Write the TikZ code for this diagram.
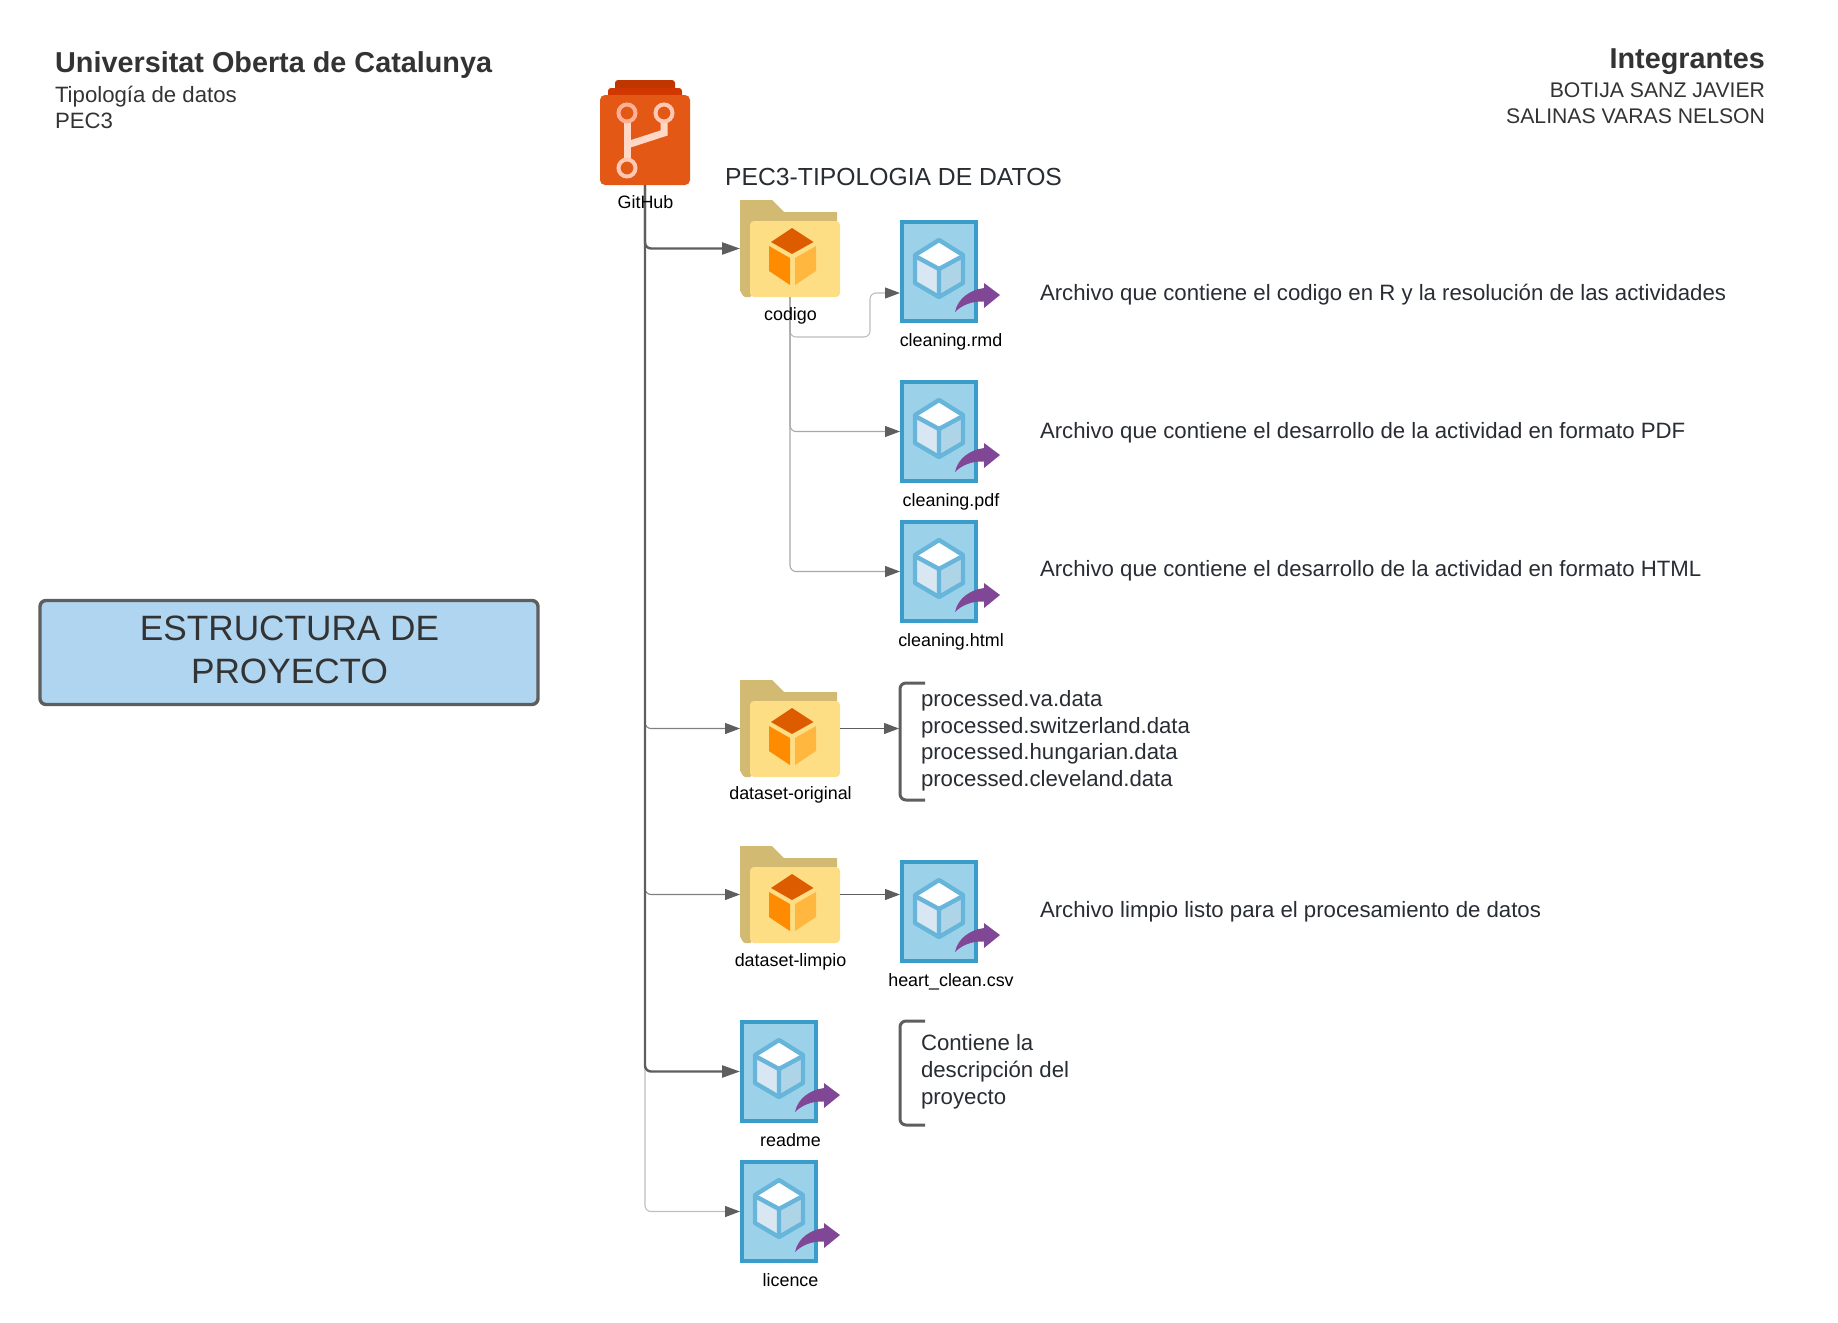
\documentclass[tikz,border=0pt]{standalone}
\usepackage{fontspec}
\setmainfont{Liberation Sans}
\usetikzlibrary{arrows.meta,calc}
\definecolor{txt}{HTML}{333333}
\definecolor{ptxt}{HTML}{282C33}
\definecolor{dk}{HTML}{5E5E5E}
\definecolor{lt}{HTML}{A8A8A8}
\definecolor{lt2}{HTML}{BDBDBD}
\definecolor{mid}{HTML}{808080}
\definecolor{fb}{HTML}{3A9CC9}
\definecolor{ff}{HTML}{9CD2E9}
\definecolor{fc}{HTML}{68B5DB}
\definecolor{fpurple}{HTML}{7F4796}
\tikzset{x=1pt,y=-1pt,
 box/.style={inner sep=0,outer sep=0,draw=none},
 lab/.style={inner sep=0,outer sep=0,text=black,font=\fontsize{17.9}{20}\selectfont},
 desc/.style={inner sep=0,outer sep=0,anchor=base west,text=ptxt,font=\fontsize{22.2}{26.5}\selectfont},
 conn/.style={draw=dk,line width=2.4pt,rounded corners=6pt,-{Triangle[length=18pt,width=12pt]}},
 thin conn/.style={draw=mid,line width=1.1pt,rounded corners=6pt,-{Triangle[length=15pt,width=11pt,color=dk]}},
 light conn/.style={thin conn,draw=lt},
 lighter conn/.style={thin conn,draw=lt2},
 brack/.style={draw=dk,line width=3pt,rounded corners=6pt}}
\newcommand{\folderic}[3]{%
 \begin{scope}[shift={(#2,#3)}]
 \fill[color={rgb,255:red,211;green,186;blue,115}] (0,0)--(32,0)--(44,12)--(97,12)--(97,30)--(10,97)--(5,97) to[out=180,in=90] (0,91)--cycle;
 \fill[color={rgb,255:red,254;green,222;blue,133},rounded corners=4pt] (10,97)--(10,21)--(100,21)--(100,97)--cycle;
 \fill[color={rgb,255:red,222;green,92;blue,0}] (52,28)--(73.5,42)--(52,54)--(31,42)--cycle;
 \fill[color={rgb,255:red,255;green,140;blue,0}] (29,46)--(50,58)--(50,85)--(29,71)--cycle;
 \fill[color={rgb,255:red,255;green,183;blue,64}] (55,58)--(76,46)--(76,71)--(55,85)--cycle;
 \node[box,minimum width=100pt,minimum height=97pt] (#1) at (50,48.5) {};
 \end{scope}}
\newcommand{\fileic}[3]{%
 \begin{scope}[shift={(#2,#3)}]
 \node[inner sep=0,outer sep=2pt,anchor=center,minimum width=74pt,minimum height=99pt,draw=fb,fill=ff,line width=4pt] (#1) at (39,51.5) {};
 \fill[white] (39,21)--(62,36)--(39,49)--(16,36)--cycle;
 \fill[color={rgb,255:red,216;green,231;blue,242}] (15,37)--(38,50)--(38,76)--(15,62)--cycle;
 \fill[color={rgb,255:red,174;green,212;blue,232}] (40,50)--(63,37)--(63,62)--(40,76)--cycle;
 \draw[fc,line width=4.4pt,line join=round] (39,20)--(63,35)--(63,63)--(39,77)--(15,63)--(15,35)--cycle;
 \draw[fc,line width=4.4pt,line join=round] (15,36)--(39,49)--(63,36) (39,49)--(39,77);
 \fill[fpurple] (55,92) .. controls (58,78) and (70,70) .. (84,68)--(84,63)--(100,75)--(84,88)--(84,81.5) .. controls (72,81) and (62,85) .. (55,92)--cycle;
 \end{scope}}
\begin{document}
\begin{tikzpicture}
\useasboundingbox (0,0) rectangle (1838,1322);
% header text
\node[inner sep=0,anchor=base west,text=txt,font=\bfseries\fontsize{28.8}{32}\selectfont] (title) at (55,72) {Universitat Oberta de Catalunya};
\node[desc,text=txt] (t1) at (55,102) {Tipología de datos};
\node[desc,text=txt] (t2) at (55,128) {PEC3};
\node[inner sep=0,anchor=base east,text=txt,font=\bfseries\fontsize{28.8}{32}\selectfont] (int) at (1765,68) {Integrantes};
\node[desc,text=txt,anchor=base east,font=\fontsize{21.2}{25}\selectfont] (i1) at (1765,97) {BOTIJA SANZ JAVIER};
\node[desc,text=txt,anchor=base east,font=\fontsize{21.2}{25}\selectfont] (i2) at (1765,123) {SALINAS VARAS NELSON};
% main box
\node[inner sep=0,outer sep=0,draw=dk,fill={rgb,255:red,176;green,213;blue,240},line width=3.4pt,rounded corners=6pt,minimum width=498pt,minimum height=104pt] (main) at (289,652.5) {};
\node[inner sep=0,align=center,text=txt,font=\fontsize{35.2}{42.6}\selectfont] (mainl) at (289.5,650) {ESTRUCTURA DE\\PROYECTO};
% github
\fill[color={rgb,255:red,191;green,54;blue,0},rounded corners=3pt] (615,100)--(615,80)--(675,80)--(675,100)--cycle;
\fill[color={rgb,255:red,208;green,56;blue,0},rounded corners=3pt] (608,100)--(608,88)--(682,88)--(682,100)--cycle;
\node[inner sep=0,outer sep=0,fill={rgb,255:red,227;green,88;blue,20},rounded corners=5pt,minimum width=90pt,minimum height=90pt] (gh) at (645,140) {};
\draw[color={rgb,255:red,255;green,216;blue,200},line width=7pt] (627,122)--(627,160);
\draw[color={rgb,255:red,255;green,216;blue,200},line width=7pt] (664,122)--(664,133)--(627,145);
\draw[color={rgb,255:red,255;green,176;blue,150},line width=4pt] (627,113) circle (8.5);
\draw[color={rgb,255:red,255;green,200;blue,180},line width=4pt] (664,113) circle (8.5);
\draw[color={rgb,255:red,255;green,200;blue,180},line width=4pt] (627,168) circle (8.5);
% icons
\folderic{codigo}{740}{200}
\fileic{rmd}{900}{220}
\fileic{pdf}{900}{380}
\fileic{html}{900}{520}
\folderic{orig}{740}{680}
\folderic{limp}{740}{846}
\fileic{heart}{900}{860}
\fileic{readme}{740}{1020}
\fileic{lic}{740}{1160}
% descriptions
\node[desc] (d1) at (1040,300) {Archivo que contiene el codigo en R y la resolución de las actividades};
\node[desc] (d2) at (1040,438.5) {Archivo que contiene el desarrollo de la actividad en formato PDF};
\node[desc] (d3) at (1040,576.5) {Archivo que contiene el desarrollo de la actividad en formato HTML};
\node[desc] (d4) at (1040,917) {Archivo limpio listo para el procesamiento de datos};
\node[desc] (o1) at (921,706.5) {processed.va.data};
\node[desc] (o2) at (921,733) {processed.switzerland.data};
\node[desc] (o3) at (921,759.5) {processed.hungarian.data};
\node[desc] (o4) at (921,786.5) {processed.cleveland.data};
\node[desc] (r1) at (921,1050.5) {Contiene la};
\node[desc] (r2) at (921,1077.5) {descripción del};
\node[desc] (r3) at (921,1104) {proyecto};
% brackets
\coordinate (b1t) at (925,683);
\coordinate (b1b) at (925,800);
\draw[brack] (b1t) -- (900,683) -- (900,800) -- (b1b);
\coordinate (b1m) at (899,728);
\coordinate (b2t) at (925,1021);
\coordinate (b2b) at (925,1125);
\draw[brack] (b2t) -- (900,1021) -- (900,1125) -- (b2b);
% connectors
\draw[lighter conn] (gh.south) |- (lic.west);
\draw[thin conn] (gh.south) |- (orig.west);
\draw[thin conn] (gh.south) |- (limp.west);
\draw[conn] (gh.south) |- (readme.west);
\draw[conn] (gh.south) |- (codigo.west);
\coordinate (rmdin) at ($(rmd.west)+(0,21.5)$);
\coordinate (rmdb) at (870,337);
\draw[lighter conn] (codigo.south) |- (rmdb) |- (rmdin);
\draw[light conn] (codigo.south) |- (pdf.west);
\draw[light conn] (codigo.south) |- (html.west);
\draw[thin conn,draw=dk] (orig.east) -- (orig.east -| b1m);
\draw[thin conn,draw=dk] (limp.east) -- (limp.east -| heart.west);
% labels and title over the connectors
\node[lab] (ghl) at (645.5,202) {GitHub};
\node[inner sep=0,anchor=base west,text=ptxt,font=\fontsize{24.7}{30}\selectfont] (ptitle) at (725,185) {PEC3-TIPOLOGIA DE DATOS};
\node[lab] (codl) at (790.5,315.5) {codigo};
\node[lab] (rmdl) at (951,342) {cleaning.rmd};
\node[lab] (pdfl) at (951,502) {cleaning.pdf};
\node[lab] (htmll) at (951,642) {cleaning.html};
\node[lab] (origl) at (790.5,795) {dataset-original};
\node[lab] (limpl) at (790.5,961.5) {dataset-limpio};
\node[lab] (heartl) at (951,982) {heart\_clean.csv};
\node[lab] (readl) at (790.5,1140) {readme};
\node[lab] (licl) at (790.5,1280) {licence};
\end{tikzpicture}
\end{document}
